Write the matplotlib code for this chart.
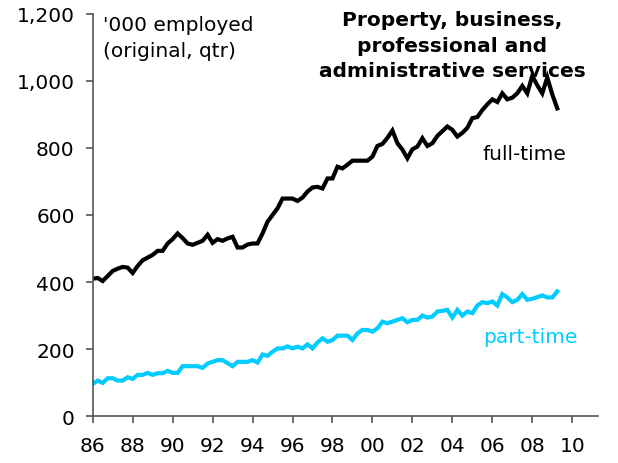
import matplotlib
matplotlib.use("Agg")
from matplotlib import pyplot as plt
from matplotlib.ticker import FuncFormatter

# quarterly data, 1986 Q1 .. 2009 Q2, '000 employed
full_time = [
    410, 412, 403, 418,
    433, 440, 445, 443,
    427, 448, 465, 473,
    481, 493, 493, 515,
    528, 545, 531, 515,
    511, 517, 523, 541,
    517, 528, 523, 530,
    535, 503, 503, 512,
    515, 515, 545, 580,
    600, 620, 649, 649,
    649, 642, 652, 670,
    682, 684, 679, 709,
    709, 744, 739, 750,
    762, 762, 762, 762,
    774, 806, 812, 830,
    852, 814, 795, 769,
    796, 804, 829, 806,
    814, 836, 850, 864,
    854, 834, 845, 860,
    889, 892, 913, 930,
    945, 937, 963, 945,
    950, 963, 985, 963,
    1015, 987, 963, 1010,
    960, 918,
]
part_time = [
    96, 106, 99, 113,
    113, 106, 106, 116,
    111, 123, 123, 129,
    123, 128, 128, 135,
    129, 129, 149, 149,
    149, 149, 144, 157,
    162, 167, 167, 158,
    149, 162, 162, 162,
    167, 160, 184, 180,
    192, 202, 202, 208,
    202, 207, 202, 214,
    202, 220, 232, 222,
    227, 240, 240, 240,
    227, 247, 257, 257,
    252, 262, 282, 277,
    282, 287, 292, 280,
    287, 287, 300, 294,
    297, 312, 314, 317,
    294, 317, 300, 312,
    307, 330, 340, 337,
    342, 330, 364, 354,
    340, 347, 364, 347,
    350, 355, 360, 354,
    354, 372,
]
years = [1986 + 0.25 * i for i in range(len(full_time))]
xticks = list(range(1986, 2011, 2))
yticks = [0, 200, 400, 600, 800, 1000, 1200]

plt.rcParams["font.family"] = "DejaVu Sans"
fs = 14.5
cyan = "#00CCFF"

fig = plt.figure(figsize=(6.18, 4.64), dpi=100)
ax = fig.add_axes([0.150, 0.101, 0.818, 0.867])

ax.plot(years, full_time, color="black", lw=3.0, solid_joinstyle="miter")
ax.plot(years, part_time, color=cyan, lw=3.0, solid_joinstyle="miter")

ax.set_xlim(1986, 2011.3)
ax.set_ylim(0, 1200)
ax.set_xticks(xticks)
ax.set_xticklabels([f"{y % 100:02d}" for y in xticks])
ax.set_yticks(yticks)
ax.yaxis.set_major_formatter(FuncFormatter(lambda v, p: f"{int(v):,}"))

for s in ["top", "right"]:
    ax.spines[s].set_visible(False)
for s in ["left", "bottom"]:
    ax.spines[s].set_color("#555555")
    ax.spines[s].set_linewidth(1.2)
ax.tick_params(axis="both", direction="out", length=5, width=1.2, color="#555555",
               labelsize=fs)
ax.tick_params(axis="y", pad=8)
ax.tick_params(axis="x", pad=9)

ax.text(1986.5, 1196, "'000 employed\n(original, qtr)", fontsize=fs,
        va="top", ha="left", linespacing=1.45)
ax.text(2004.0, 1212, "Property, business,\nprofessional and\nadministrative services",
        fontsize=fs, fontweight="bold", va="top", ha="center", linespacing=1.45)
ax.text(2007.6, 782, "full-time", fontsize=fs, va="center", ha="center")
ax.text(2007.9, 237, "part-time", fontsize=fs, va="center", ha="center",
        color=cyan)

plt.savefig("out.png", dpi=100)
